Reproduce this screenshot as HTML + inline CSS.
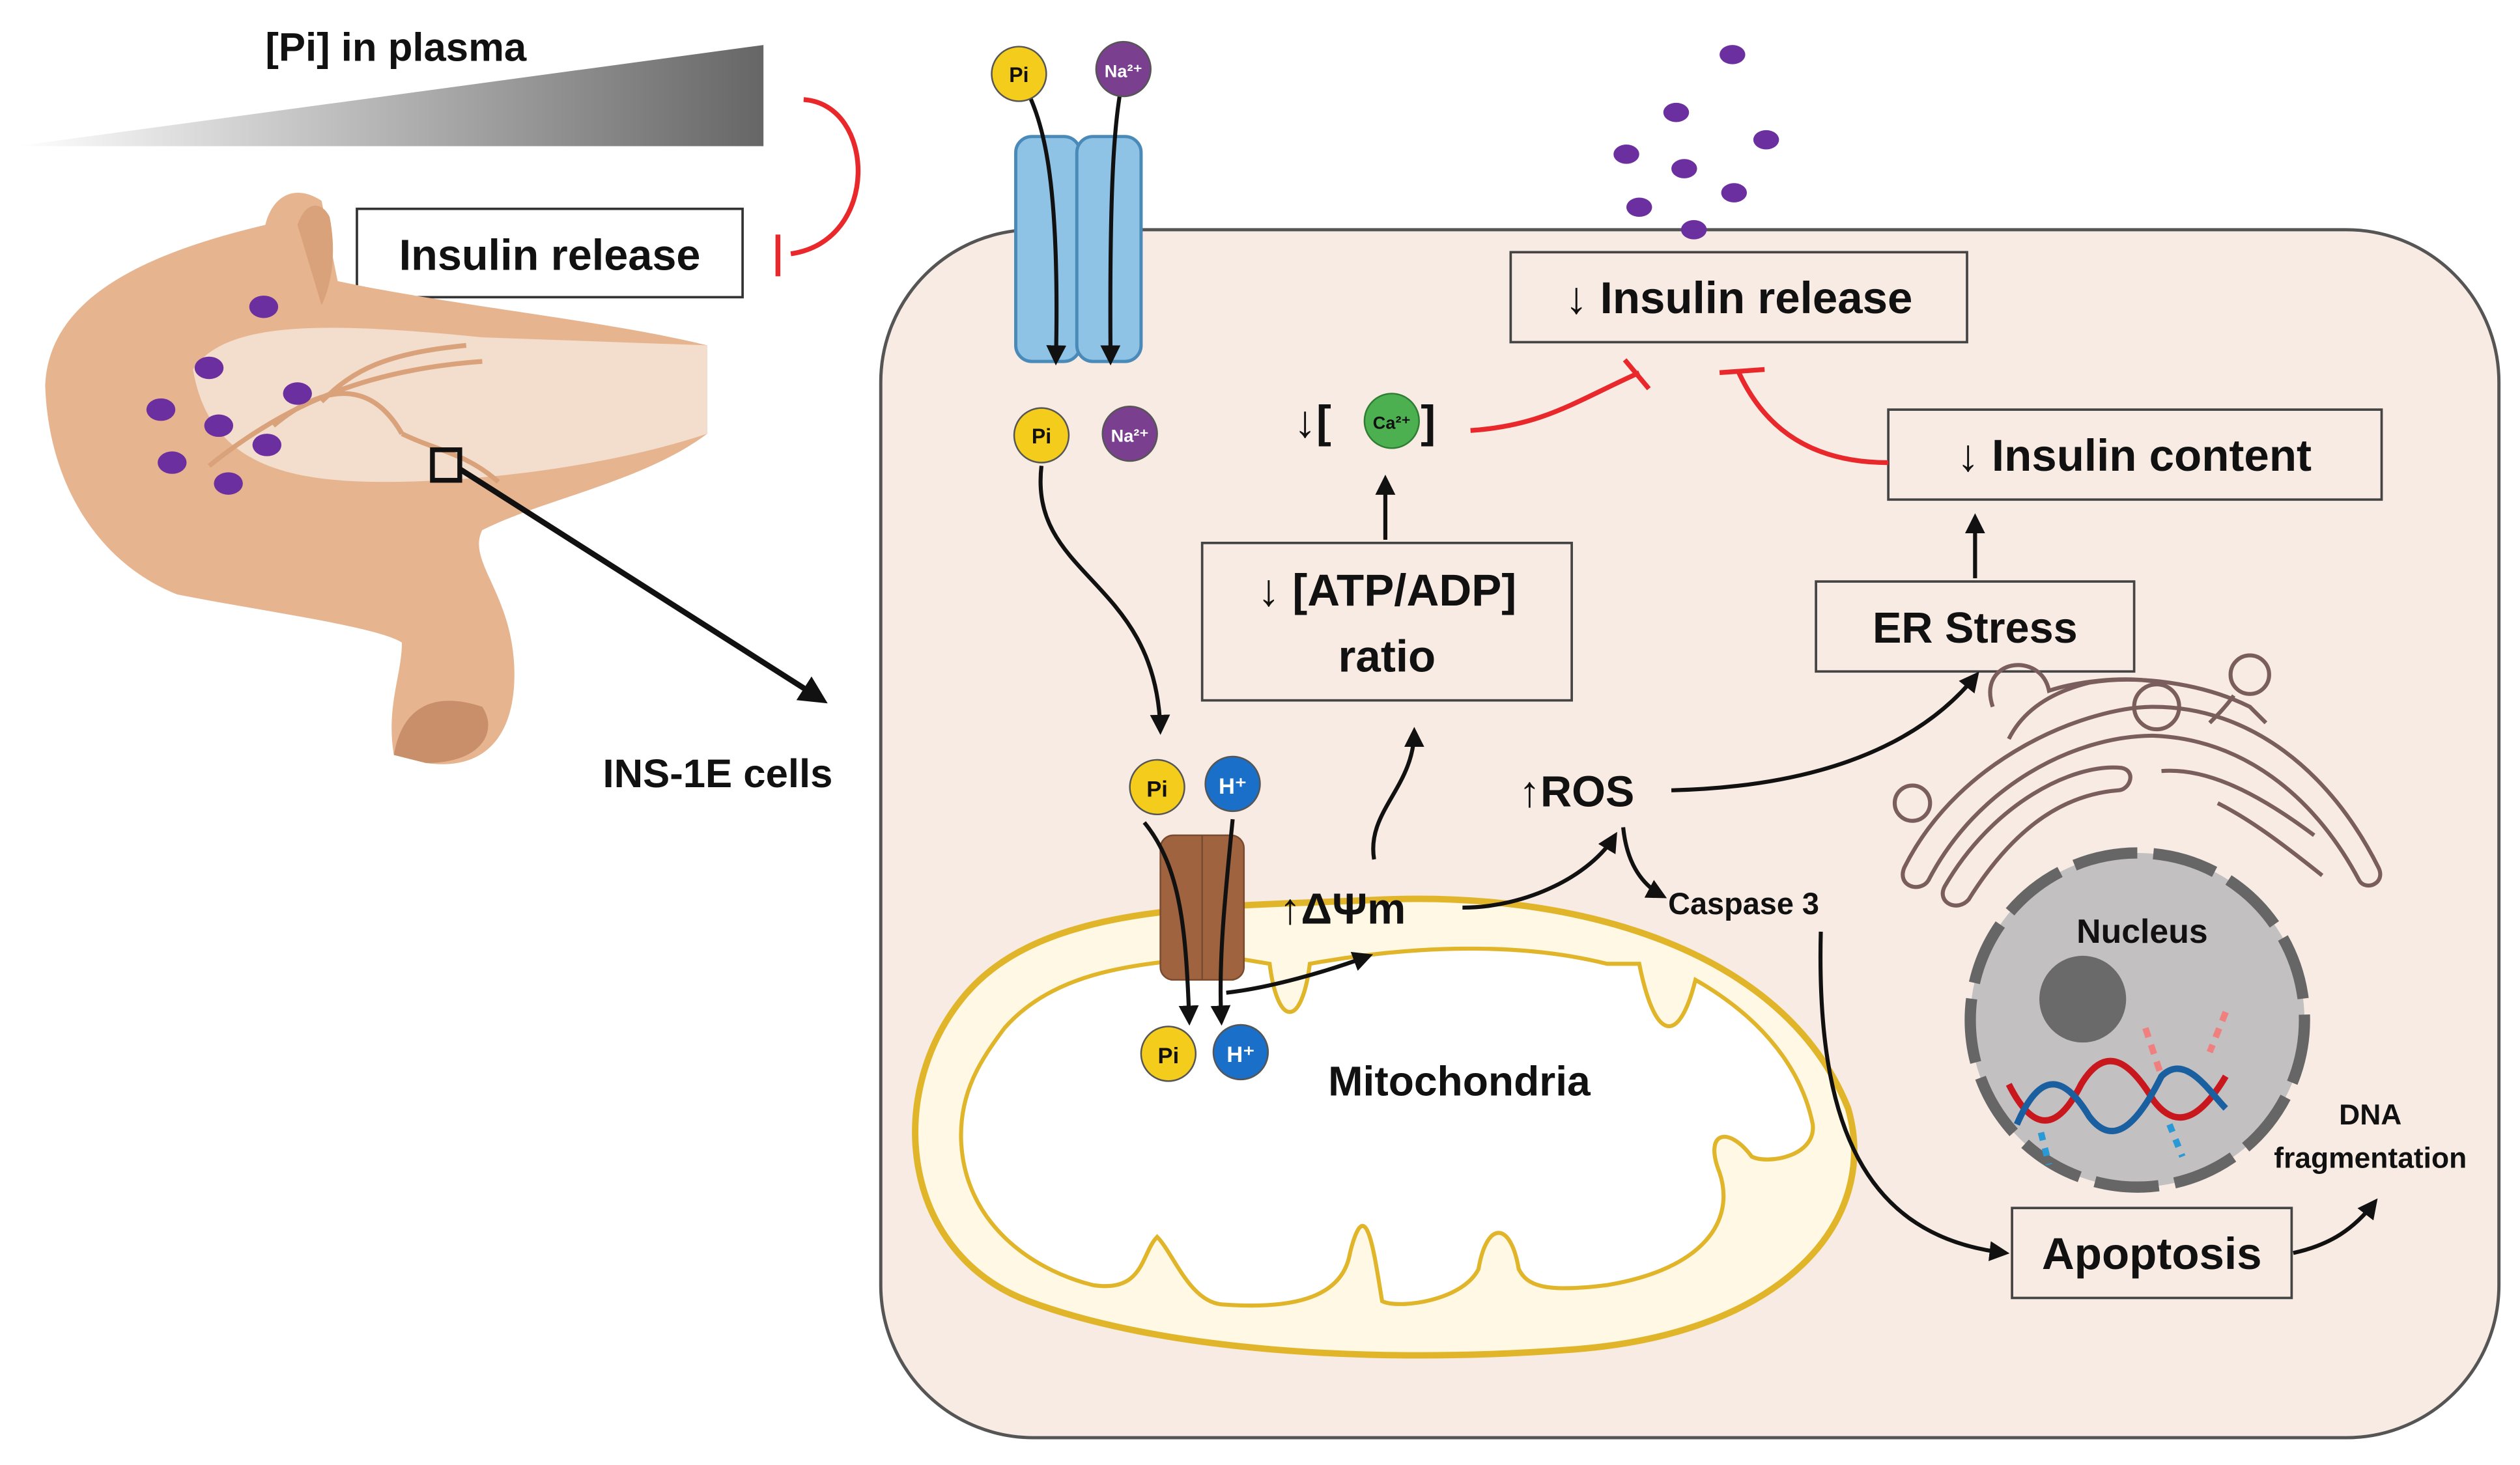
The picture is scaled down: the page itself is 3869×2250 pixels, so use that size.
<!DOCTYPE html>
<html><head><meta charset="utf-8"><style>
html,body{margin:0;padding:0;background:#fff;}
svg{display:block;}
text{font-family:"Liberation Sans",sans-serif;font-weight:bold;fill:#111;}
</style></head><body>
<svg width="3869" height="2250" viewBox="0 0 1568 912" xmlns="http://www.w3.org/2000/svg">
<defs>
<linearGradient id="g1" x1="0" x2="1" y1="0" y2="0"><stop offset="0" stop-color="#fff"/><stop offset="1" stop-color="#666"/></linearGradient>
<marker id="ah" viewBox="0 0 10 10" refX="8" refY="5" markerWidth="5" markerHeight="5" orient="auto"><path d="M0,0L10,5L0,10z" fill="#111"/></marker>
</defs>
<rect width="1568" height="912" fill="#fff"/>
<!-- gradient triangle -->
<polygon points="10,91 475,28 475,91" fill="url(#g1)"/>
<text x="165" y="38" font-size="25">[Pi] in plasma</text>
<path d="M500,62 C545,65 548,150 492,158" fill="none" stroke="#e8282a" stroke-width="3"/>
<line x1="484" y1="146" x2="484" y2="172" stroke="#e8282a" stroke-width="3"/>
<rect x="222" y="130" width="240" height="55" fill="#fff" stroke="#333" stroke-width="1.5"/>
<text x="342" y="168" font-size="27" text-anchor="middle">Insulin release</text>
<!-- pancreas -->
<path d="M165,140 C170,120 185,115 200,125 L210,175 C280,190 380,200 440,215 L440,270 C400,300 340,310 300,330 C290,350 320,370 320,420 C320,460 300,480 265,475 L245,470 C240,440 250,420 250,400 C235,390 160,380 110,370 C60,350 30,300 28,240 C30,190 80,160 165,140 Z" fill="#e6b48f"/>
<path d="M120,230 C140,200 200,200 300,210 L440,215 L440,270 C380,290 300,300 240,300 C180,300 130,290 120,230 Z" fill="#f6e7dc" opacity="0.8"/>
<path d="M245,470 C250,440 270,430 300,440 C310,455 300,475 265,475 Z" fill="#c98f6a"/>
<path d="M185,140 C190,125 200,125 205,135 C210,160 205,180 200,190 Z" fill="#d9a27b"/>
<g stroke="#d9a27b" stroke-width="3" fill="none"><path d="M130,290 C180,250 230,230 300,225 M170,265 C200,240 230,235 250,270 M200,250 C220,230 240,220 290,215 M250,270 C270,280 290,282 310,300"/></g>
<g fill="#6b2fa0"><ellipse cx="164" cy="191" rx="9" ry="7"/><ellipse cx="130" cy="229" rx="9" ry="7"/><ellipse cx="100" cy="255" rx="9" ry="7"/><ellipse cx="136" cy="265" rx="9" ry="7"/><ellipse cx="185" cy="245" rx="9" ry="7"/><ellipse cx="166" cy="277" rx="9" ry="7"/><ellipse cx="107" cy="288" rx="9" ry="7"/><ellipse cx="142" cy="301" rx="9" ry="7"/></g>
<rect x="269" y="280" width="17" height="19" fill="none" stroke="#111" stroke-width="3"/>
<line x1="286" y1="292" x2="512" y2="436" stroke="#111" stroke-width="3.5" marker-end="url(#ah)"/>
<text x="375" y="490" font-size="25">INS-1E cells</text>
<!-- cell -->
<rect x="548" y="143" width="1007" height="752" rx="95" fill="#f7ebe3" stroke="#555" stroke-width="2"/>
<!-- channel -->
<rect x="632" y="85" width="40" height="140" rx="10" fill="#8fc3e6" stroke="#4a8ab8" stroke-width="2"/>
<rect x="670" y="85" width="40" height="140" rx="10" fill="#8fc3e6" stroke="#4a8ab8" stroke-width="2"/>
<path d="M634,45 C645,70 660,90 657,225" fill="none" stroke="#111" stroke-width="2.5" marker-end="url(#ah)"/>
<path d="M699,45 C695,70 690,90 691,225" fill="none" stroke="#111" stroke-width="2.5" marker-end="url(#ah)"/>
<g font-size="12">
<circle cx="634" cy="46" r="17" fill="#f4cc1c" stroke="#555"/><text x="634" y="51" text-anchor="middle" font-weight="normal" font-size="13">Pi</text>
<circle cx="699" cy="43" r="17" fill="#7b3f8f" stroke="#555"/><text x="699" y="48" text-anchor="middle" font-size="11" fill="#fff" style="fill:#fff">Na²⁺</text>
<circle cx="648" cy="271" r="17" fill="#f4cc1c" stroke="#555"/><text x="648" y="276" text-anchor="middle" font-weight="normal" font-size="13">Pi</text>
<circle cx="703" cy="270" r="17" fill="#7b3f8f" stroke="#555"/><text x="703" y="275" text-anchor="middle" font-size="11" style="fill:#fff">Na²⁺</text>
</g>
<path d="M648,290 C640,360 720,360 722,455" fill="none" stroke="#111" stroke-width="2.5" marker-end="url(#ah)"/>
<!-- purple dots top -->
<g fill="#6b2fa0"><ellipse cx="1078" cy="34" rx="8" ry="6"/><ellipse cx="1043" cy="70" rx="8" ry="6"/><ellipse cx="1099" cy="87" rx="8" ry="6"/><ellipse cx="1012" cy="96" rx="8" ry="6"/><ellipse cx="1048" cy="105" rx="8" ry="6"/><ellipse cx="1079" cy="120" rx="8" ry="6"/><ellipse cx="1020" cy="129" rx="8" ry="6"/><ellipse cx="1054" cy="143" rx="8" ry="6"/></g>
<!-- boxes -->
<rect x="940" y="157" width="284" height="56" fill="#f7ebe3" stroke="#444" stroke-width="1.5"/>
<text x="1082" y="195" font-size="28" text-anchor="middle">↓ Insulin release</text>
<rect x="1175" y="255" width="307" height="56" fill="#f7ebe3" stroke="#444" stroke-width="1.5"/>
<text x="1328" y="293" font-size="28" text-anchor="middle">↓ Insulin content</text>
<rect x="1130" y="362" width="198" height="56" fill="#f7ebe3" stroke="#444" stroke-width="1.5"/>
<text x="1229" y="400" font-size="27" text-anchor="middle">ER Stress</text>
<rect x="748" y="338" width="230" height="98" fill="#f7ebe3" stroke="#444" stroke-width="1.5"/>
<text x="863" y="377" font-size="28" text-anchor="middle">↓ [ATP/ADP]</text>
<text x="863" y="418" font-size="28" text-anchor="middle">ratio</text>
<rect x="1252" y="752" width="174" height="56" fill="#f7ebe3" stroke="#444" stroke-width="1.5"/>
<text x="1339" y="790" font-size="28" text-anchor="middle">Apoptosis</text>
<!-- Ca -->
<text x="805" y="272" font-size="28">↓[</text>
<circle cx="866" cy="262" r="17" fill="#4caf50" stroke="#2e7d32"/><text x="866" y="267" font-size="11" text-anchor="middle" font-weight="normal">Ca²⁺</text>
<text x="884" y="272" font-size="28">]</text>
<line x1="862" y1="336" x2="862" y2="298" stroke="#111" stroke-width="2.5" marker-end="url(#ah)"/>
<path d="M915,268 C960,265 980,250 1020,232" fill="none" stroke="#e8282a" stroke-width="3"/>
<line x1="1011" y1="224" x2="1026" y2="242" stroke="#e8282a" stroke-width="3"/>
<path d="M1175,288 C1120,288 1095,260 1082,232" fill="none" stroke="#e8282a" stroke-width="3"/>
<line x1="1070" y1="232" x2="1098" y2="230" stroke="#e8282a" stroke-width="3"/>
<line x1="1229" y1="360" x2="1229" y2="322" stroke="#111" stroke-width="2.5" marker-end="url(#ah)"/>
<!-- ER / golgi -->
<g fill="none" stroke="#7a5e5e" stroke-width="2.5">
<path d="M1185,540 C1220,470 1300,440 1340,440 C1400,440 1450,480 1480,540 C1485,550 1472,555 1468,548 C1440,495 1395,460 1340,458 C1290,458 1230,490 1200,548 C1195,556 1180,552 1185,540 Z"/>
<path d="M1210,552 C1240,500 1290,475 1320,478 C1330,480 1325,492 1318,492 C1280,495 1250,520 1225,560 C1218,568 1205,562 1210,552 Z"/>
<path d="M1250,460 C1260,440 1280,430 1300,425 C1330,420 1370,425 1400,440 L1410,450" />
<path d="M1345,480 C1370,478 1400,490 1440,520 M1380,500 C1400,510 1420,525 1445,545"/>
<circle cx="1190" cy="500" r="11"/><circle cx="1342" cy="440" r="14"/><circle cx="1400" cy="420" r="12"/>
<path d="M1240,440 C1230,410 1270,405 1275,430 C1290,425 1320,420 1345,425 M1375,450 C1380,445 1385,440 1390,433"/>
</g>
<!-- nucleus -->
<circle cx="1330" cy="635" r="104" fill="#c2c0c0" stroke="#666" stroke-width="7" stroke-dasharray="40 10"/>
<circle cx="1296" cy="622" r="27" fill="#6a6a6a"/>
<text x="1333" y="587" font-size="21" text-anchor="middle">Nucleus</text>
<g fill="none" stroke-width="4">
<path d="M1250,675 C1265,705 1280,705 1295,675 C1310,650 1325,660 1340,685 C1355,705 1370,695 1385,670" stroke="#c8181e"/>
<path d="M1255,700 C1270,665 1285,670 1300,695 C1315,715 1330,700 1345,670 C1360,655 1375,680 1385,690" stroke="#1a5fa0"/>
<path d="M1335,640 l10,30 M1385,630 l-10,25" stroke="#f08080" stroke-dasharray="6 5"/>
<path d="M1270,705 l5,20 M1350,700 l8,20" stroke="#2a9ad6" stroke-dasharray="5 5"/>
</g>
<text x="1475" y="700" font-size="18" text-anchor="middle">DNA</text>
<text x="1475" y="727" font-size="18" text-anchor="middle">fragmentation</text>
<path d="M1427,780 C1450,775 1465,765 1478,748" fill="none" stroke="#111" stroke-width="2.5" marker-end="url(#ah)"/>
<!-- mitochondria -->
<path d="M600,620 C650,560 760,565 860,560 C980,555 1110,590 1150,690 C1170,760 1110,830 980,840 C850,850 720,840 640,810 C560,780 550,680 600,620 Z" fill="#fff8e4" stroke="#e0b52a" stroke-width="4"/>
<path d="M625,640 C660,600 720,600 760,595 L790,600 C795,640 810,640 815,600 C870,590 940,585 1000,600 L1020,600 C1030,650 1045,650 1055,610 C1090,630 1120,660 1128,700 C1130,720 1100,725 1090,720 C1075,700 1060,705 1070,730 C1080,760 1060,790 1000,800 C960,805 950,800 945,790 C940,760 925,760 920,790 C910,810 870,815 860,810 C855,780 850,740 840,780 C835,810 800,815 760,812 C740,810 730,780 720,770 C710,780 712,805 680,800 C640,790 600,760 598,710 C597,680 610,660 625,640 Z" fill="#fff" stroke="#e0b52a" stroke-width="2.5"/>
<text x="908" y="682" font-size="26" text-anchor="middle">Mitochondria</text>
<!-- ANT channel -->
<rect x="722" y="520" width="52" height="90" rx="8" fill="#a0633f" stroke="#7a4a2f"/>
<line x1="748" y1="520" x2="748" y2="610" stroke="#7a4a2f"/>
<path d="M712,512 C735,540 738,580 740,636" fill="none" stroke="#111" stroke-width="2.5" marker-end="url(#ah)"/>
<path d="M767,510 C762,560 758,600 760,636" fill="none" stroke="#111" stroke-width="2.5" marker-end="url(#ah)"/>
<path d="M763,618 C790,615 825,605 852,595" fill="none" stroke="#111" stroke-width="2.5" marker-end="url(#ah)"/>
<circle cx="720" cy="490" r="17" fill="#f4cc1c" stroke="#555"/><text x="720" y="496" text-anchor="middle" font-weight="normal" font-size="14">Pi</text>
<circle cx="767" cy="488" r="17" fill="#1a6fc9" stroke="#555"/><text x="767" y="494" text-anchor="middle" font-size="14" style="fill:#fff">H⁺</text>
<circle cx="727" cy="656" r="17" fill="#f4cc1c" stroke="#555"/><text x="727" y="662" text-anchor="middle" font-weight="normal" font-size="14">Pi</text>
<circle cx="772" cy="655" r="17" fill="#1a6fc9" stroke="#555"/><text x="772" y="661" text-anchor="middle" font-size="14" style="fill:#fff">H⁺</text>
<text x="796" y="575" font-size="27">↑ΔΨm</text>
<path d="M855,535 C850,505 880,490 880,455" fill="none" stroke="#111" stroke-width="2.5" marker-end="url(#ah)"/>
<path d="M910,565 C950,565 990,545 1005,520" fill="none" stroke="#111" stroke-width="2.5" marker-end="url(#ah)"/>
<text x="945" y="502" font-size="27">↑ROS</text>
<path d="M1040,492 C1120,490 1190,470 1230,420" fill="none" stroke="#111" stroke-width="2.5" marker-end="url(#ah)"/>
<path d="M1010,515 C1012,535 1020,550 1035,558" fill="none" stroke="#111" stroke-width="2.5" marker-end="url(#ah)"/>
<text x="1038" y="569" font-size="19">Caspase 3</text>
<path d="M1133,580 C1130,700 1160,770 1248,780" fill="none" stroke="#111" stroke-width="2.5" marker-end="url(#ah)"/>
</svg>
</body></html>
